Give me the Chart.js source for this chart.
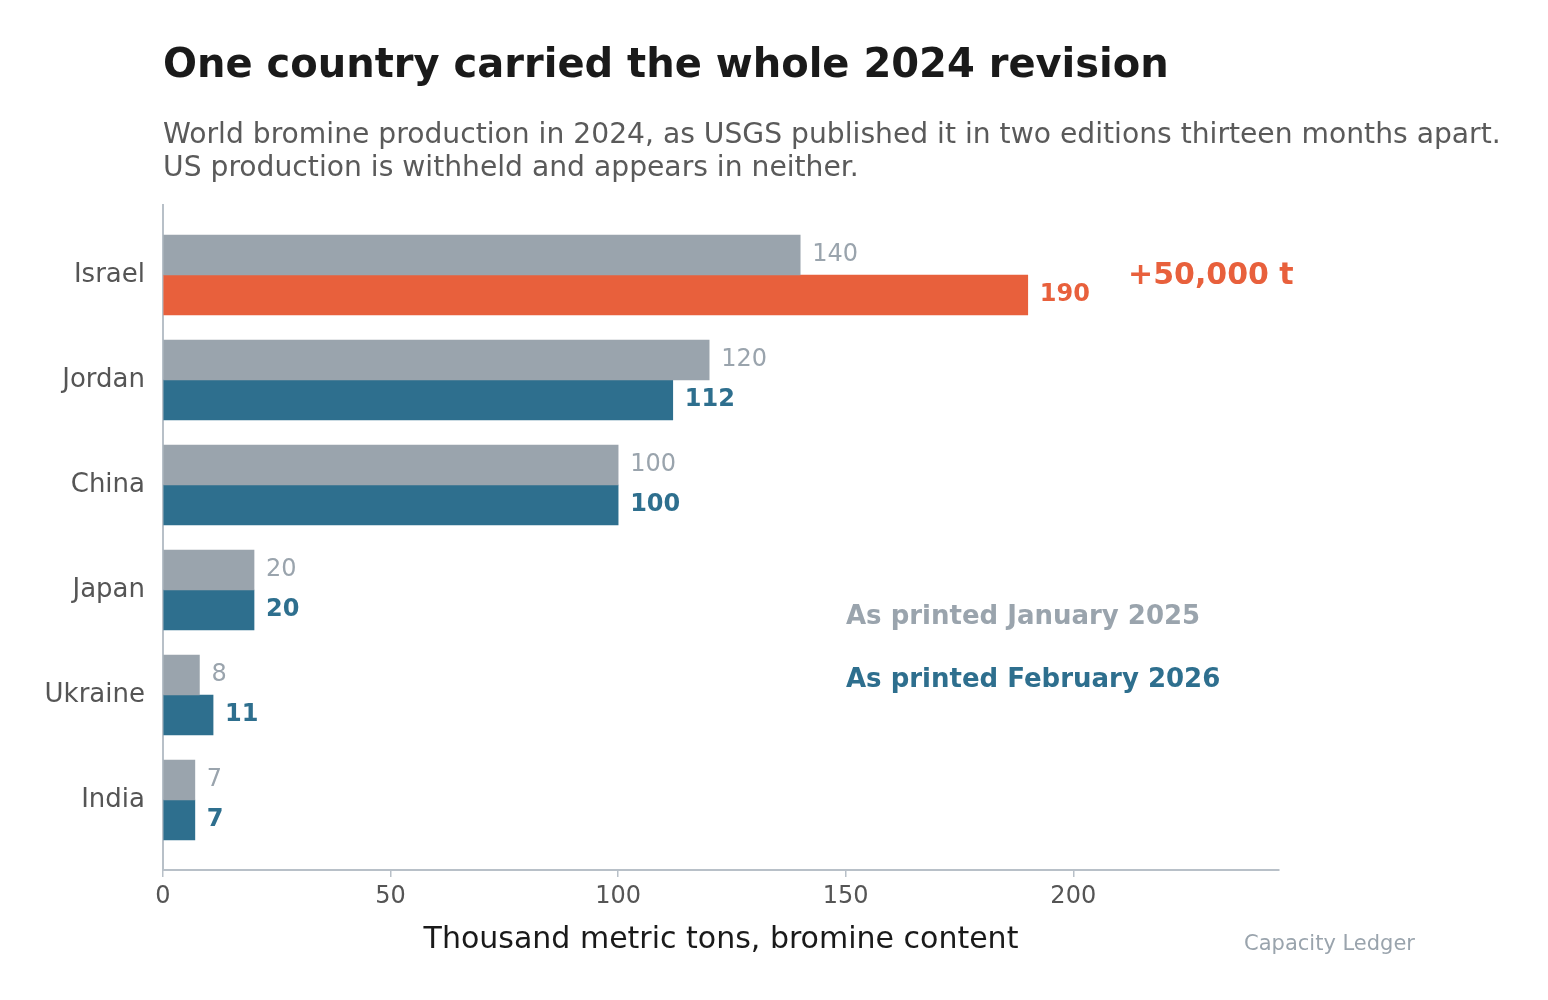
<!DOCTYPE html>
<html>
<head>
<meta charset="utf-8">
<script src="https://cdn.jsdelivr.net/npm/chart.js@4"></script>
<style>
  html, body { margin: 0; padding: 0; background: #fff; }
  #wrap { width: 1548px; height: 1000px; position: relative; }
</style>
</head>
<body>
<div id="wrap"><canvas id="bromine"></canvas></div>
<script>
const countries = ['Israel', 'Jordan', 'China', 'Japan', 'Ukraine', 'India'];
const printedJan2025 = [140, 120, 100, 20, 8, 7];
const printedFeb2026 = [190, 112, 100, 20, 11, 7];
const xTicks = [0, 50, 100, 150, 200];

const FONT = "'DejaVu Sans', sans-serif";
const GRAY = '#9aa4ad';
const BLUE = '#2e6f8e';
const ORANGE = '#e8603c';
const AXIS = '#b8c0c8';

// title, subtitle, bar value labels, legend text, note
const textPlugin = {
    id: 'texts',
    afterDatasetsDraw(chart) {
        const c = chart.ctx;
        const area = chart.chartArea;
        c.save();
        c.textBaseline = 'alphabetic';
        c.textAlign = 'left';

        c.fillStyle = '#1a1a1a';
        c.font = 'bold 40px ' + FONT;
        c.fillText('One country carried the whole 2024 revision', 163, 77);

        c.fillStyle = '#5a5a5a';
        c.font = '28.2px ' + FONT;
        c.fillText('World bromine production in 2024, as USGS published it in two editions thirteen months apart.', 163, 143);
        c.fillText('US production is withheld and appears in neither.', 163, 176);

        // value labels next to bars
        c.textBaseline = 'middle';
        const oldMeta = chart.getDatasetMeta(0);
        const newMeta = chart.getDatasetMeta(1);
        oldMeta.data.forEach((bar, i) => {
            c.fillStyle = GRAY;
            c.font = '24px ' + FONT;
            c.fillText(String(printedJan2025[i]), bar.x + 12, bar.y);
        });
        newMeta.data.forEach((bar, i) => {
            c.fillStyle = i === 0 ? ORANGE : BLUE;
            c.font = 'bold 24px ' + FONT;
            c.fillText(String(printedFeb2026[i]), bar.x + 12, bar.y);
        });
        c.textBaseline = 'alphabetic';

        c.fillStyle = ORANGE;
        c.font = 'bold 30px ' + FONT;
        c.fillText('+50,000 t', 1128, 284);

        c.font = 'bold 26px ' + FONT;
        c.fillStyle = GRAY;
        c.fillText('As printed January 2025', 846, 624);
        c.fillStyle = BLUE;
        c.fillText('As printed February 2026', 846, 687);

        c.fillStyle = '#1a1a1a';
        c.font = '30px ' + FONT;
        c.textAlign = 'center';
        c.fillText('Thousand metric tons, bromine content', (area.left + area.right) / 2, 948);

        c.fillStyle = GRAY;
        c.font = '21px ' + FONT;
        c.textAlign = 'right';
        c.fillText('Capacity Ledger', 1415, 950);
        c.restore();
    }
};

document.addEventListener('DOMContentLoaded', function () {
    const ctx = document.getElementById('bromine');

    const data = {
        datasets: [{
            label: 'As printed January 2025',
            data: countries.map((c, i) => ({ x: printedJan2025[i], y: i })),
            backgroundColor: GRAY,
            barThickness: 40,
        },
            {
                label: 'As printed February 2026',
                data: countries.map((c, i) => ({ x: printedFeb2026[i], y: i })),
                backgroundColor: countries.map((c, i) => i === 0 ? ORANGE : BLUE),
                barThickness: 40,
            }]
    };

    const config = {
        type: 'bar',
        data: data,
        plugins: [textPlugin],
        options: {
            indexAxis: 'y',
            responsive: true,
            maintainAspectRatio: false,
            animation: false,
            layout: { padding: { top: 205, right: 269, left: 0, bottom: 0 } },
            plugins: {
                legend: { display: false },
                tooltip: { enabled: false }
            },
            scales: {
                x: {
                    type: 'linear',
                    min: 0,
                    max: 245.2,
                    afterBuildTicks: s => { s.ticks = xTicks.map(v => ({ value: v })); },
                    afterFit: s => { s.height = 130; },
                    grid: { drawOnChartArea: false, drawTicks: true, tickLength: 7, color: AXIS, lineWidth: 1.5 },
                    border: { color: AXIS, width: 2 },
                    ticks: { color: '#555', font: { family: FONT, size: 24 }, padding: 5 }
                },
                y: {
                    type: 'linear',
                    offset: false,
                    reverse: true,
                    min: -0.667,
                    max: 5.667,
                    afterBuildTicks: s => { s.ticks = countries.map((c, i) => ({ value: i })); },
                    afterFit: s => { s.width = 163; },
                    grid: { display: false, drawTicks: false, tickLength: 0 },
                    border: { color: AXIS, width: 2 },
                    ticks: {
                        color: '#555',
                        font: { family: FONT, size: 26 },
                        padding: 18,
                        callback: v => countries[v] || ''
                    }
                }
            }
        }
    };

    new Chart(ctx, config);
});
</script>
</body>
</html>
